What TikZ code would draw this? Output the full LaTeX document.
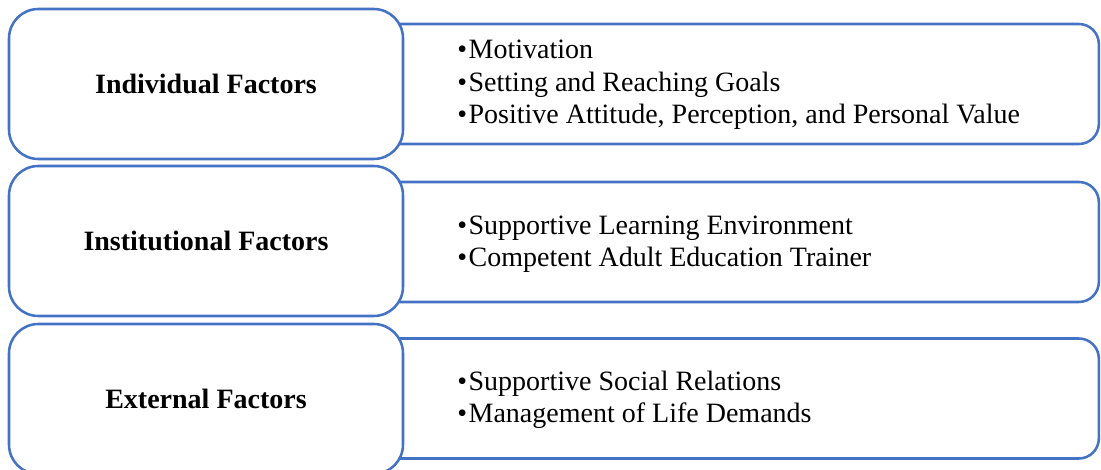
\documentclass[tikz,border=0pt]{standalone}
\usepackage{fontspec}
\setmainfont{Liberation Serif}
\definecolor{frameblue}{HTML}{4472C4}
\newcommand{\itm}{\textbullet\kern1.2pt}
\begin{document}
\begin{tikzpicture}[x=0.75pt,y=-0.75pt,
  factorbox/.style={draw=frameblue,line width=1.9pt,fill=white,rounded corners=22pt,
    minimum width=295.5pt,minimum height=112.5pt,inner sep=0pt,
    font=\fontsize{21}{24.4}\selectfont\bfseries},
  listbox/.style={draw=frameblue,line width=1.9pt,fill=white,rounded corners=15pt,
    minimum width=539pt,minimum height=90pt,inner sep=0pt},
  listtext/.style={anchor=west,align=left,inner sep=0pt,
    font=\fontsize{21}{24.4}\selectfont}]
\useasboundingbox (0,0) rectangle (1101,470);
\clip (0,0) rectangle (1101,470);
% list panels behind the factor boxes
\node[listbox] (r1) at (739.5,84) {};
\node[listbox] (r2) at (739.5,242) {};
\node[listbox] (r3) at (739.5,398.5) {};
% factor boxes on top
\node[factorbox] (l1) at (206,84) {Individual Factors};
\node[factorbox] (l2) at (206,241) {Institutional Factors};
\node[factorbox] (l3) at (206,399) {External Factors};
% bullet lists
\node[listtext] (t1) at (457,85) {\itm Motivation\\\itm Setting and Reaching Goals\\\itm Positive Attitude, Perception, and Personal Value};
\node[listtext] (t2) at (457,244) {\itm Supportive Learning Environment\\\itm Competent Adult Education Trainer};
\node[listtext] (t3) at (457,400) {\itm Supportive Social Relations\\\itm Management of Life Demands};
\end{tikzpicture}
\end{document}
